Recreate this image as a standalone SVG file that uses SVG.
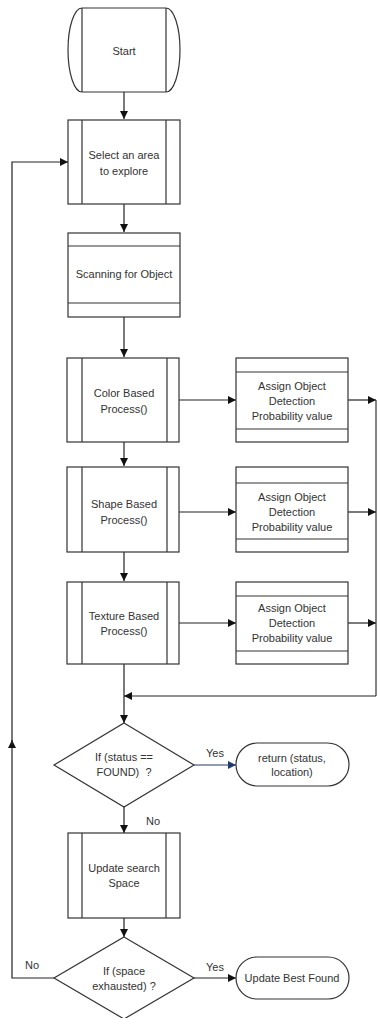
<svg xmlns="http://www.w3.org/2000/svg" width="378" height="1018" viewBox="0 0 378 1018">
<defs>
<marker id="ah" viewBox="0 0 10 10" refX="10" refY="5" markerWidth="8" markerHeight="8" markerUnits="userSpaceOnUse" orient="auto"><path d="M0,0 L10,5 L0,10 z" fill="#111"/></marker>
<marker id="ahb" viewBox="0 0 10 10" refX="10" refY="5" markerWidth="8" markerHeight="8" markerUnits="userSpaceOnUse" orient="auto"><path d="M0,0 L10,5 L0,10 z" fill="#1f3a6e"/></marker>
<style>
.s{fill:#fff;stroke:#333;stroke-width:1.2}
.l{fill:none;stroke:#333;stroke-width:1.2}
.c{fill:none;stroke:#222;stroke-width:1.2;marker-end:url(#ah)}
.cb{fill:none;stroke:#1f3a6e;stroke-width:1.2;marker-end:url(#ahb)}
text{font-family:"Liberation Sans",Arial,sans-serif;font-size:11px;fill:#333;text-anchor:middle;white-space:pre}
</style>
</defs>
<rect width="378" height="1018" fill="#fff"/>
<g id="connectors">
<path class="c" d="M124,92 V119"/>
<path class="c" d="M124,204 V232"/>
<path class="c" d="M124,317 V357"/>
<path class="c" d="M124,442 V466"/>
<path class="c" d="M124,552 V581"/>
<path class="c" d="M179,400 H236"/>
<path class="c" d="M179,512 H236"/>
<path class="c" d="M179,623 H236"/>
<path class="c" d="M348,400 H376"/>
<path class="c" d="M348,512 H376"/>
<path class="c" d="M348,623 H376"/>
<path class="l" d="M376,400 V696"/>
<path class="c" d="M376,696 H124"/>
<path class="c" d="M124,664 V723"/>
<path class="cb" d="M194,765 H236"/>
<path class="c" d="M124,807 V833"/>
<path class="c" d="M124,918 V937"/>
<path class="c" d="M194,978 H236"/>
<path class="c" d="M54,978 H12 V740"/>
<path class="c" d="M12,745 V162 H68"/>
<text x="215" y="757">Yes</text>
<text x="153" y="825">No</text>
<text x="32" y="969">No</text>
<text x="215" y="971">Yes</text>
</g>
<g id="start">
<path class="s" d="M82,8 H166 A14 42 0 0 1 166,92 H82 A14 42 0 0 1 82,8 z"/>
<path class="l" d="M82,8 V92 M166,8 V92"/>
<text x="124" y="55">Start</text>
</g>
<g id="select">
<rect class="s" x="68" y="120" width="112" height="84"/>
<path class="l" d="M82,120 V204 M166,120 V204"/>
<text x="124" y="159">Select an area</text>
<text x="124" y="175">to explore</text>
</g>
<g id="scanning">
<rect class="s" x="68" y="233" width="112" height="84"/>
<path class="l" d="M68,246 H180 M68,303 H180"/>
<text x="124" y="278">Scanning for Object</text>
</g>
<g id="color">
<rect class="s" x="67" y="358" width="112" height="84"/>
<path class="l" d="M82,358 V442 M167,358 V442"/>
<text x="124" y="397">Color Based</text>
<text x="124" y="413">Process()</text>
</g>
<g id="assign1">
<rect class="s" x="236" y="358" width="112" height="84"/>
<path class="l" d="M236,372 H348 M236,429 H348"/>
<text x="292" y="390">Assign Object</text>
<text x="292" y="405">Detection</text>
<text x="292" y="420">Probability value</text>
</g>
<g id="shape">
<rect class="s" x="67" y="467" width="112" height="85"/>
<path class="l" d="M82,467 V552 M167,467 V552"/>
<text x="124" y="508">Shape Based</text>
<text x="124" y="524">Process()</text>
</g>
<g id="assign2">
<rect class="s" x="236" y="467" width="112" height="85"/>
<path class="l" d="M236,483 H348 M236,539 H348"/>
<text x="292" y="501">Assign Object</text>
<text x="292" y="516">Detection</text>
<text x="292" y="531">Probability value</text>
</g>
<g id="texture">
<rect class="s" x="67" y="582" width="112" height="82"/>
<path class="l" d="M82,582 V664 M167,582 V664"/>
<text x="124" y="620">Texture Based</text>
<text x="124" y="635">Process()</text>
</g>
<g id="assign3">
<rect class="s" x="236" y="582" width="112" height="82"/>
<path class="l" d="M236,596 H348 M236,651 H348"/>
<text x="292" y="612">Assign Object</text>
<text x="292" y="627">Detection</text>
<text x="292" y="642">Probability value</text>
</g>
<g id="found">
<path class="s" d="M124,723 L194,765 L124,807 L54,765 z"/>
<text x="124" y="761">If (status ==</text>
<text x="124" y="776">FOUND)  ?</text>
</g>
<g id="return">
<rect class="s" x="236" y="743" width="113" height="43" rx="21.5"/>
<text x="292" y="762">return (status,</text>
<text x="292" y="776">location)</text>
</g>
<g id="update">
<rect class="s" x="68" y="833" width="112" height="85"/>
<path class="l" d="M82,833 V918 M166,833 V918"/>
<text x="124" y="872">Update search</text>
<text x="124" y="887">Space</text>
</g>
<g id="exhausted">
<path class="s" d="M124,937 L194,978 L124,1019 L54,978 z"/>
<text x="124" y="975">If (space</text>
<text x="124" y="990">exhausted) ?</text>
</g>
<g id="best">
<rect class="s" x="236" y="957" width="113" height="42" rx="21"/>
<text x="292" y="982">Update Best Found</text>
</g>
</svg>
